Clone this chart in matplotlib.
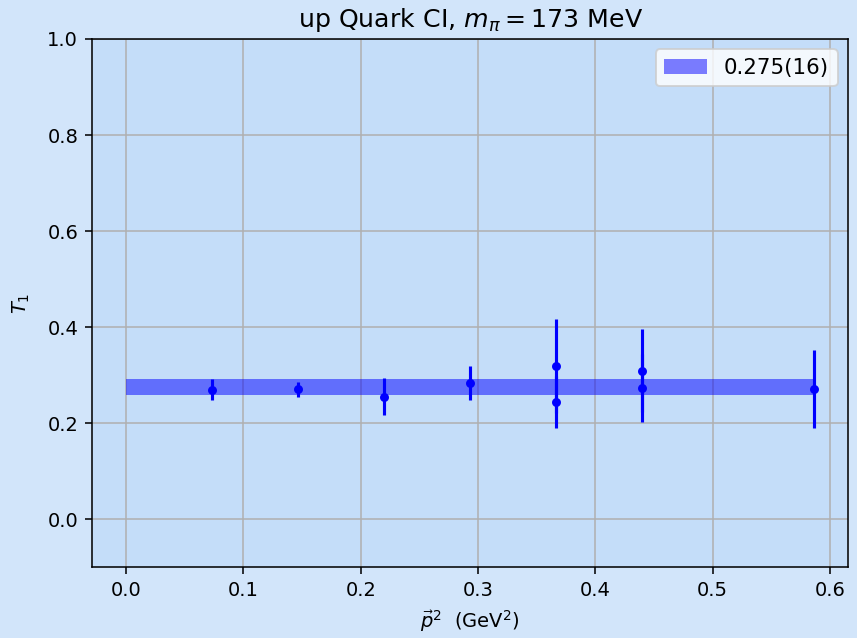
import numpy as np
import matplotlib.pyplot as plt

# momentum transfer values and T1 results (with duplicates at equal p^2)
p2 = [0.0733, 0.1466, 0.2199, 0.2932, 0.3665, 0.3665, 0.4398, 0.4398, 0.5864]
t1 = [0.269, 0.270, 0.255, 0.283, 0.318, 0.243, 0.309, 0.273, 0.270]
t1_err = [0.022, 0.016, 0.038, 0.035, 0.098, 0.054, 0.087, 0.070, 0.081]

fit_mean = 0.275
fit_err = 0.016
fit_label = "0.275(16)"

dpi = 140
fig = plt.figure(figsize=(857.4 / dpi, 638.4 / dpi), dpi=dpi, facecolor="#d2e5fa")
ax = fig.add_axes([0.107, 0.111, 0.8825, 0.828])
ax.set_facecolor("#c4ddf9")

band_x = np.array([0.0, p2[-1]])
ax.fill_between(band_x, fit_mean - fit_err, fit_mean + fit_err,
                color="blue", alpha=0.5, lw=0, label=fit_label)
ax.errorbar(p2, t1, yerr=t1_err, fmt="o", color="blue", ms=3.6, elinewidth=1.6,
            capsize=0)

ax.set_ylim(-0.1, 1.0)
ax.grid(True, color="#b0b0b0")
ax.set_axisbelow(True)
ax.set_title(r"up Quark CI, $m_\pi = 173$ MeV", fontsize=13)
ax.set_xlabel(r"$\vec{p}^2$  (GeV$^2$)")
ax.set_ylabel(r"$T_1$", labelpad=8)
ax.legend(loc="upper right", fontsize=11)

fig.savefig("out.png", dpi=dpi, facecolor=fig.get_facecolor())
